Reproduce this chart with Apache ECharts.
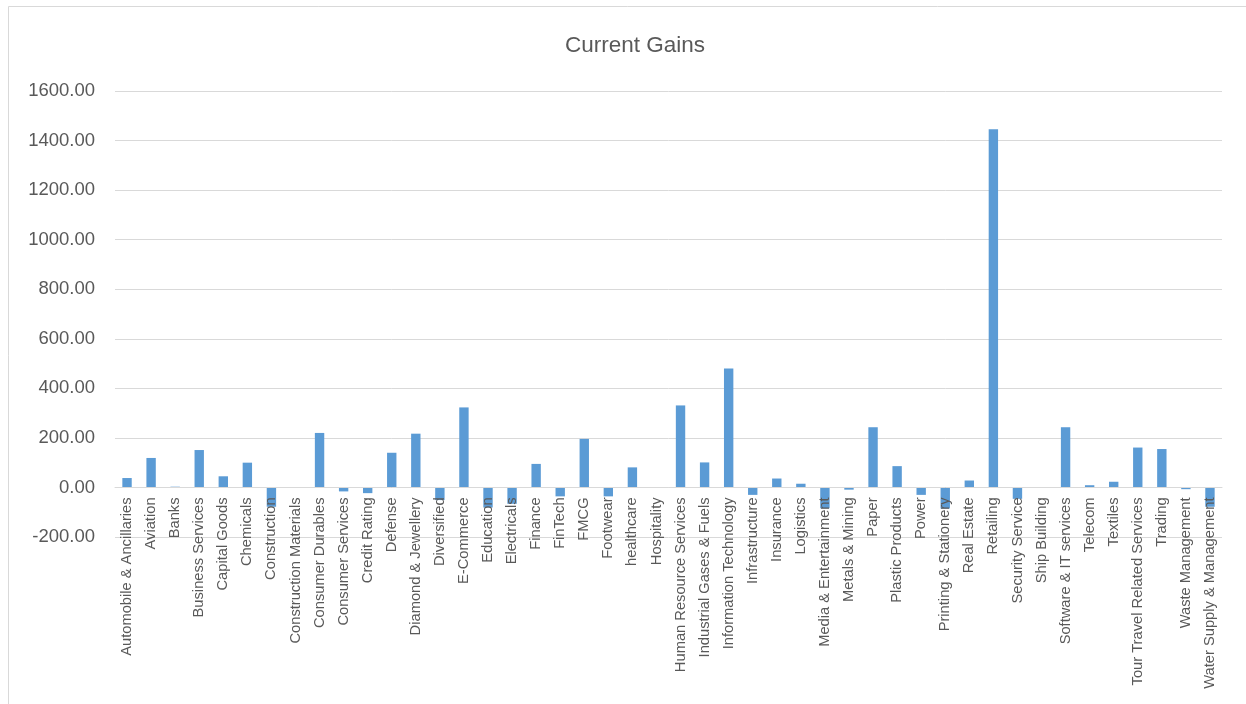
<!DOCTYPE html>
<html>
<head>
<meta charset="utf-8">
<script src="https://cdn.jsdelivr.net/npm/echarts@6/dist/echarts.min.js"></script>
<style>
html,body{margin:0;padding:0;background:#fff;}
#main{width:1246px;height:704px;}
</style>
</head>
<body>
<div id="main"></div>
<script>
var categories = ["Automobile & Ancillaries","Aviation","Banks","Business Services","Capital Goods","Chemicals","Construction","Construction Materials","Consumer Durables","Consumer Services","Credit Rating","Defense","Diamond & Jewellery","Diversified","E-Commerce","Education","Electricals","Finance","FinTech","FMCG","Footwear","healthcare","Hospitality","Human Resource Services","Industrial Gases & Fuels","Information Technology","Infrastructure","Insurance","Logistics","Media & Entertainment","Metals & Mining","Paper","Plastic Products","Power","Printing & Stationery","Real Estate","Retailing","Security Service","Ship Building","Software & IT services","Telecom","Textiles","Tour Travel Related Services","Trading","Waste Management","Water Supply & Management"];
var currentGains = [38,119,3,151,45,100,-78,1,220,-16,-23,140,217,-51,323,-81,-66,95,-36,196,-36,81,0,331,101,480,-30,36,15,-84,-9,243,86,-30,-85,28,1446,-46,0,243,9,23,161,155,-7,-78];
var yMin = -200, yMax = 1600, yStep = 200;
var titleText = "Current Gains";

var gridTop = 91, gridBottom = 167, H = 704;
var plotH = H - gridTop - gridBottom;
var zeroOffset = -plotH * (0 - yMin) / (yMax - yMin);

var chart = echarts.init(document.getElementById('main'));
chart.setOption({
  backgroundColor: '#ffffff',
  animation: false,
  textStyle: {fontFamily: 'Liberation Sans'},
  title: {
    text: titleText,
    left: 560,
    top: 29,
    textStyle: {fontFamily: 'Liberation Sans', fontSize: 22.5, fontWeight: 'normal', color: '#595959'}
  },
  graphic: [{
    type: 'rect',
    silent: true,
    z: -10,
    shape: {x: 8.5, y: 6.5, width: 1400, height: 900},
    style: {fill: 'none', stroke: '#D9D9D9', lineWidth: 1}
  }],
  grid: {left: 115, right: 24, top: gridTop, bottom: gridBottom, containLabel: false, outerBoundsMode: 'none'},
  xAxis: {
    type: 'category',
    data: categories,
    position: 'bottom',
    offset: zeroOffset,
    z: 5,
    axisLine: {onZero: false, lineStyle: {color: '#D9D9D9', width: 1}},
    axisTick: {show: false},
    axisLabel: {
      interval: 0,
      rotate: 90,
      margin: 10,
      color: '#595959',
      fontSize: 14.7,
      fontFamily: 'Liberation Sans'
    },
    splitLine: {show: false}
  },
  yAxis: {
    type: 'value',
    min: yMin,
    max: yMax,
    interval: yStep,
    axisLine: {show: false},
    axisTick: {show: false},
    axisLabel: {
      color: '#595959',
      fontSize: 18.5,
      margin: 20,
      fontFamily: 'Liberation Sans',
      formatter: function (v) { return v.toFixed(2); }
    },
    splitLine: {lineStyle: {color: '#D9D9D9', width: 1}}
  },
  series: [{
    type: 'bar',
    data: currentGains,
    barWidth: '39%',
    itemStyle: {color: '#5B9BD5'},
    z: 1
  }]
});
</script>
</body>
</html>
